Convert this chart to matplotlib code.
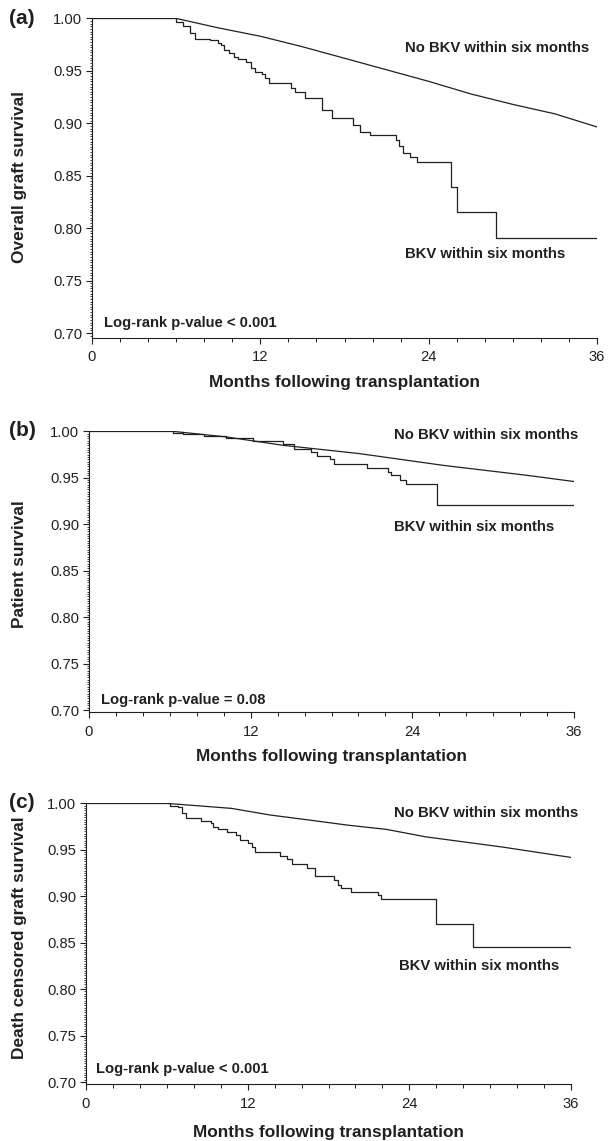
import matplotlib
matplotlib.use("Agg")
import matplotlib.pyplot as plt
from matplotlib.ticker import MultipleLocator, FixedLocator, FormatStrFormatter

plt.rcParams['font.family'] = ['Liberation Sans', 'DejaVu Sans']

# ---------------- data ----------------
panel_letters = ["(a)", "(b)", "(c)"]
y_labels = ["Overall graft survival", "Patient survival", "Death censored graft survival"]
x_label = "Months following transplantation"
label_no_bkv = "No BKV within six months"
label_bkv = "BKV within six months"
pvalue_texts = ["Log-rank p-value < 0.001", "Log-rank p-value = 0.08", "Log-rank p-value < 0.001"]
x_ticks = [0, 12, 24, 36]
y_ticks = [0.70, 0.75, 0.80, 0.85, 0.90, 0.95, 1.00]

a_nobkv_t = [0, 6, 9, 12, 15, 18, 21, 24, 27, 30, 33, 36]
a_nobkv_s = [1.0, 1.0, 0.991, 0.983, 0.973, 0.962, 0.951, 0.940, 0.928, 0.918, 0.909, 0.8965]
a_bkv_t = [0, 6.0, 6.5, 7.0, 7.35, 8.4, 9.0, 9.2, 9.4, 9.8, 10.1, 10.4, 11.0, 11.3, 11.6, 12.1,
           12.3, 12.6, 14.2, 14.5, 15.2, 16.4, 17.1, 18.6, 19.1, 19.85, 21.65, 21.9, 22.2,
           22.7, 23.15, 25.6, 26.05, 28.8, 36]
a_bkv_s = [1.0, 0.997, 0.993, 0.986, 0.980, 0.979, 0.977, 0.975, 0.970, 0.967, 0.963, 0.961,
           0.958, 0.953, 0.949, 0.947, 0.943, 0.938, 0.934, 0.930, 0.924, 0.913, 0.905, 0.898,
           0.892, 0.889, 0.884, 0.878, 0.872, 0.868, 0.863, 0.839, 0.815, 0.791, 0.791]

b_nobkv_t = [0, 6.25, 10.2, 14.4, 20.1, 26.3, 32.5, 36]
b_nobkv_s = [1.0, 1.0, 0.994, 0.985, 0.976, 0.9634, 0.9527, 0.946]
b_bkv_t = [0, 6.25, 7.0, 8.5, 10.2, 12.2, 14.4, 15.2, 16.5, 16.9, 17.9, 18.2, 20.6, 22.2,
           22.4, 23.1, 23.5, 25.8, 36]
b_bkv_s = [1.0, 0.998, 0.997, 0.995, 0.993, 0.990, 0.986, 0.981, 0.978, 0.974, 0.970, 0.965,
           0.9606, 0.9563, 0.9527, 0.948, 0.9437, 0.921, 0.921]

c_nobkv_t = [0, 6.0, 10.8, 13.7, 16.6, 19.4, 22.3, 25.2, 30.9, 36]
c_nobkv_s = [1.0, 1.0, 0.9946, 0.9874, 0.982, 0.9766, 0.972, 0.964, 0.953, 0.9418]
c_bkv_t = [0, 6.25, 6.8, 7.1, 7.4, 8.5, 9.25, 9.4, 9.8, 10.5, 11.1, 11.4, 12.0, 12.3, 12.55,
           14.4, 14.9, 15.3, 16.4, 17.0, 18.4, 18.7, 18.9, 19.7, 21.7, 21.9, 26.0, 28.7, 36]
c_bkv_s = [1.0, 0.9971, 0.9964, 0.9892, 0.9838, 0.9813, 0.9784, 0.9748, 0.972, 0.9695, 0.9659,
           0.9605, 0.9576, 0.9526, 0.9479, 0.9432, 0.9396, 0.9346, 0.930, 0.9217, 0.9174,
           0.912, 0.9094, 0.9048, 0.9012, 0.8965, 0.8706, 0.8455, 0.8455]

nobkv_t = [a_nobkv_t, b_nobkv_t, c_nobkv_t]
nobkv_s = [a_nobkv_s, b_nobkv_s, c_nobkv_s]
bkv_t = [a_bkv_t, b_bkv_t, c_bkv_t]
bkv_s = [a_bkv_s, b_bkv_s, c_bkv_s]

# ---------------- layout (pixels of a 608x1141 canvas) ----------------
W, H = 608, 1141
boxes = [(92, 597, 18, 338), (89, 574, 431, 712), (86, 571, 803, 1084)]
yref = [(18, 333), (431, 710), (803, 1082)]
no_pos = [(0.620, 0.906), (0.629, 0.986), (0.635, 0.964)]
bkv_pos = [(0.620, 0.2625), (0.629, 0.658), (0.645, 0.420)]
p_pos = [(0.024, 0.047), (0.025, 0.043), (0.021, 0.053)]
letter_y = [18, 431, 803]
ylabel_y = [177, 564, 938]
xlabel_y = [383, 757, 1132]

ink = '#231f20'
fig = plt.figure(figsize=(W / 100, H / 100), dpi=100)

for i in range(3):
    l, r, t, b = boxes[i]
    y1, y0 = yref[i]
    per = (y0 - y1) / 0.30
    ytop = 1.0 + (y1 - t) / per + 0.0004
    ybot = 0.70 - (b - y0) / per
    ax = fig.add_axes([l / W, 1 - b / H, (r - l) / W, (b - t) / H])
    ax.set_xlim(0, 36)
    ax.set_ylim(ybot, ytop)
    for s in ['top', 'right']:
        ax.spines[s].set_visible(False)
    for s in ['left', 'bottom']:
        ax.spines[s].set_linewidth(0.8)
        ax.spines[s].set_color(ink)
    ax.spines['left'].set_bounds(ybot, 1.0)

    ax.plot(nobkv_t[i], nobkv_s[i], color=ink, lw=0.9)
    ax.step(bkv_t[i], bkv_s[i], where='post', color=ink, lw=0.9)

    ax.xaxis.set_major_locator(FixedLocator(x_ticks))
    ax.xaxis.set_minor_locator(MultipleLocator(2))
    ax.yaxis.set_major_locator(FixedLocator(y_ticks))
    ax.yaxis.set_minor_locator(MultipleLocator(0.0025))
    ax.yaxis.set_major_formatter(FormatStrFormatter('%.2f'))
    ax.tick_params(axis='both', which='major', length=4, width=0.8, color=ink,
                   labelsize=10.6, labelcolor=ink)
    ax.tick_params(axis='y', which='major', pad=3)
    ax.tick_params(axis='x', which='major', pad=5)
    ax.tick_params(axis='x', which='minor', length=3, width=0.7, color=ink)
    ax.tick_params(axis='y', which='minor', length=1.6, width=0.6, color=ink)

    ax.text(no_pos[i][0], no_pos[i][1], label_no_bkv, transform=ax.transAxes,
            fontsize=10.7, fontweight='bold', color=ink, va='center', ha='left')
    ax.text(bkv_pos[i][0], bkv_pos[i][1], label_bkv, transform=ax.transAxes,
            fontsize=10.7, fontweight='bold', color=ink, va='center', ha='left')
    ax.text(p_pos[i][0], p_pos[i][1], pvalue_texts[i], transform=ax.transAxes,
            fontsize=10.6, fontweight='bold', color=ink, va='center', ha='left')

    fig.text(22 / W, 1 - letter_y[i] / H, panel_letters[i], fontsize=15, fontweight='bold',
             color=ink, ha='center', va='center')
    fig.text(20 / W, 1 - ylabel_y[i] / H, y_labels[i], fontsize=12.4, fontweight='bold',
             color=ink, ha='center', va='center', rotation=90)
    fig.text((l + r) / 2 / W, 1 - xlabel_y[i] / H, x_label, fontsize=12.4, fontweight='bold',
             color=ink, ha='center', va='center')

fig.savefig('out.png', dpi=100)
